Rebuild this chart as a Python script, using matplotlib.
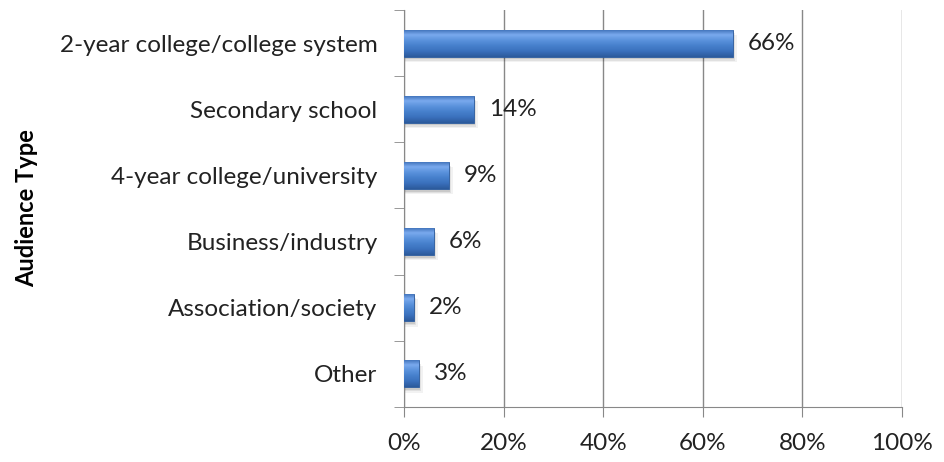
import numpy as np
import matplotlib.pyplot as plt
from matplotlib.colors import LinearSegmentedColormap

plt.rcParams['font.family'] = ['Lato', 'DejaVu Sans']

categories = ['2-year college/college system', 'Secondary school',
              '4-year college/university', 'Business/industry',
              'Association/society', 'Other']
shares = [66, 14, 9, 6, 2, 3]
x_ticks = [0, 20, 40, 60, 80, 100]

fig = plt.figure(figsize=(9.44, 4.62), dpi=100)
ax = fig.add_axes([404 / 944, 55 / 462, 498 / 944, 397 / 462])

y = np.arange(len(categories))[::-1]
height = 0.41

# vertical shading for the bevelled bar look, listed top to bottom
bar_cmap = LinearSegmentedColormap.from_list(
    'bevel', ['#3a6cb4', '#7aaaee', '#5a92dc', '#4680cc', '#3a70bc', '#2c5a9c'])
grad = np.linspace(0, 1, 64).reshape(-1, 1)

for yi, v in zip(y, shares):
    # soft drop shadow
    for k, a in enumerate([0.10, 0.07, 0.05]):
        ax.barh(yi - 0.04 - 0.02 * k, v + 0.3 * k, height=height,
                left=0.2, color='#000000', alpha=a, zorder=2, linewidth=0)
    bars = ax.barh(yi, v, height=height, color='#4680cc',
                   edgecolor='#2c5a9c', linewidth=0.6, zorder=3)
    im = ax.imshow(grad, cmap=bar_cmap, aspect='auto', zorder=3.5,
                   origin='upper', interpolation='bilinear',
                   extent=[0, v, yi - height / 2, yi + height / 2])
    im.set_clip_path(bars[0])
    ax.text(v + 3, yi, f'{v}%', va='center', ha='left', fontsize=17.5,
            color='#222222', zorder=4)

ax.set_xlim(0, 100)
ax.set_ylim(-0.5, len(categories) - 0.5)
ax.set_xticks(x_ticks)
ax.set_xticklabels([f'{t}%' for t in x_ticks], fontsize=17.5, color='#222222')
ax.set_yticks(y)
ax.set_yticklabels(categories, fontsize=17.5, color='#222222')
ax.set_yticks(np.arange(-0.5, len(categories), 1), minor=True)

ax.tick_params(axis='y', which='major', length=0, pad=19)
ax.tick_params(axis='y', which='minor', length=7, color='#888888')
ax.tick_params(axis='x', length=7, color='#888888', pad=12, direction='out')

ax.grid(axis='x', color='#888888', linewidth=1, zorder=1)
ax.set_axisbelow(True)
for s in ['top', 'right']:
    ax.spines[s].set_visible(False)
for s in ['left', 'bottom']:
    ax.spines[s].set_color('#888888')

ax.set_ylabel('Audience Type', fontsize=17, fontweight='bold')
ax.yaxis.set_label_coords(-366 / 498, 0.5)

fig.savefig('out.png', dpi=100)
